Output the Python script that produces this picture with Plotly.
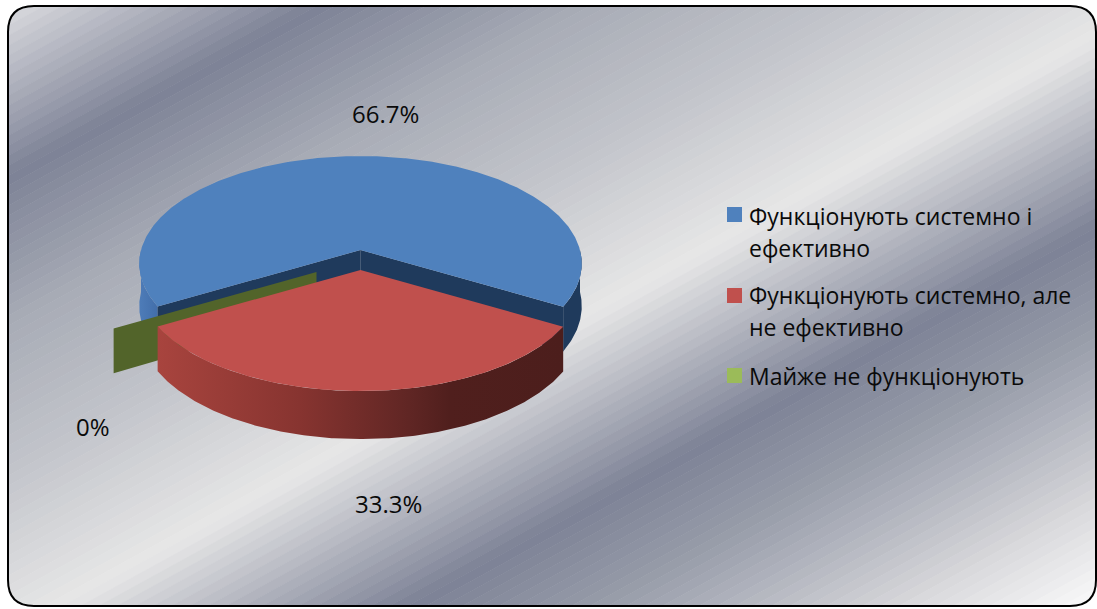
import numpy as np
import plotly.graph_objects as go

# ---- data ----
categories = ["Функціонують системно і ефективно",
              "Функціонують системно, але не ефективно",
              "Майже не функціонують"]
values = [66.7, 33.3, 0]
value_labels = ["66.7%", "33.3%", "0%"]
legend_lines = [["Функціонують системно і", "ефективно"],
                ["Функціонують системно, але", "не ефективно"],
                ["Майже не функціонують"]]
top_colors = ["#4F81BD", "#C0504D", "#9BBB59"]

# ---- 3-D projection of the pie (pixel-valued axes) ----
W, H = 1097, 609
CX, CY = 360.5, 250
RX, RY, P = 219.5, 105.8, 0.126
DEPTH = 42
START = 150
explode = [(0, 0), (0, 20), (-44, 22)]


def project(theta_deg, r=1.0, z=0.0, off=(0, 0)):
    t = np.radians(np.asarray(theta_deg, dtype=float))
    u, v = r * np.cos(t), r * np.sin(t)
    w = 1 - P * v
    return CX + RX * u / w + off[0], CY + (RY * v + z * DEPTH) / w + off[1]


def arc(a0, a1, **kw):
    return project(np.linspace(a0, a1, max(int(abs(a1 - a0) * 2), 2)), **kw)


def poly(xs, ys, **kw):
    return go.Scatter(x=list(xs), y=list(ys), mode="lines", fill="toself",
                      line=dict(width=0), hoverinfo="skip", showlegend=False, **kw)


def hgrad(stops):
    return dict(type="horizontal", colorscale=stops)


spans = [v / sum(values) * 360 for v in values]
a = START
angles = []
for s in spans:
    angles.append((a, a + s))
    a += s
(b0, b1), (r0, r1), (g0, g1) = angles
r0 -= 360
r1 -= 360
fig = go.Figure()


def wall(a0, a1, off=(0, 0)):
    xt, yt = arc(a0, a1, off=off)
    xb, yb = arc(a0, a1, z=1, off=off)
    return np.r_[xt, xb[::-1]], np.r_[yt, yb[::-1]]


def cut(theta, off=(0, 0)):
    p = [project(theta, z=0, off=off), project(theta, z=1, off=off),
         project(theta, r=0, z=1, off=off), project(theta, r=0, z=0, off=off)]
    return [q[0] for q in p], [q[1] for q in p]


# blue: outer visible walls, inner cut faces, top
x, y = wall(b0, 180)
fig.add_trace(poly(x, y, fillgradient=hgrad([[0, "rgb(78,124,184)"], [1, "rgb(66,110,170)"]])))
x, y = wall(360, b1)
fig.add_trace(poly(x, y, fillcolor="rgb(31,58,92)"))
for th in (b0, b1):
    x, y = cut(th)
    fig.add_trace(poly(x, y, fillcolor="rgb(31,58,92)"))
x, y = arc(b0, b1)
xa, ya = project(0, r=0)
fig.add_trace(poly(np.r_[xa, x], np.r_[ya, y], fillcolor=top_colors[0]))

# green: zero-width slice, only its cut face can be seen
x, y = cut(g0, off=explode[2])
fig.add_trace(poly(x, y, fillcolor="rgb(82,100,42)"))

# red: wall then top
x, y = wall(r0, r1, off=explode[1])
fig.add_trace(poly(x, y, fillgradient=hgrad([
    [0, "rgb(168,68,62)"], [0.35, "rgb(135,52,48)"], [0.62, "rgb(96,38,36)"],
    [0.72, "rgb(80,31,29)"], [1, "rgb(76,30,28)"]])))
x, y = arc(r0, r1, off=explode[1])
xa, ya = project(0, r=0, off=explode[1])
fig.add_trace(poly(np.r_[xa, x], np.r_[ya, y], fillcolor=top_colors[1]))

# legend swatches
FONT = "Open Sans"
legend_y = [(216, 248), (295, 327), (376,)]
swatch = dict(x=[734.5] * 3, y=[214.5, 295.5, 375.5])
fig.add_trace(go.Scatter(mode="markers", hoverinfo="skip", showlegend=False,
                         marker=dict(symbol="square", size=15, color=top_colors), **swatch))

ann = []
for lines, ys in zip(legend_lines, legend_y):
    for t, yy in zip(lines, ys):
        ann.append(dict(x=747, y=yy, text=t, xanchor="left", yanchor="middle", showarrow=False,
                        font=dict(family=FONT, size=23, color="#0a0a0a")))
for t, (px, py) in zip(value_labels, [(385, 113), (388, 503), (93, 426)]):
    ann.append(dict(x=px, y=py, text=t, xanchor="center", yanchor="middle", showarrow=False,
                    font=dict(family=FONT, size=24, color="#0a0a0a")))

# ---- background: diagonal stepped gradient ----
stops_c = [0, 180, 330, 480, 640, 830, 930, 1000, 1100, 1212, 1700]
stops_rgb = np.array([[225, 225, 228], [125, 130, 150], [168, 172, 182], [195, 197, 203],
                      [231, 231, 231], [125, 130, 150], [150, 155, 168], [175, 178, 188],
                      [215, 215, 218], [252, 252, 252], [252, 252, 252]], dtype=float)
SL = 0.55
STEP = 10
shapes = []
for c in range(-10, 1240, STEP):
    col = [np.interp(c + STEP / 2, stops_c, stops_rgb[:, i]) for i in range(3)]
    path = (f"M -5 {c + SL * 5} L {W + 5} {c - SL * (W + 5)} "
            f"L {W + 5} {c + STEP + 0.5 - SL * (W + 5)} L -5 {c + STEP + 0.5 + SL * 5} Z")
    shapes.append(dict(type="path", path=path, layer="below", line=dict(width=0),
                       fillcolor=f"rgb({col[0]:.0f},{col[1]:.0f},{col[2]:.0f})"))

# rounded frame: white mask outside, black outline
L, T, R, B, RAD = 8, 6, 1096, 606, 26
frame = (f"M {L + RAD} {T} L {R - RAD} {T} Q {R} {T} {R} {T + RAD} L {R} {B - RAD} Q {R} {B} {R - RAD} {B} "
         f"L {L + RAD} {B} Q {L} {B} {L} {B - RAD} L {L} {T + RAD} Q {L} {T} {L + RAD} {T} Z")
shapes.append(dict(type="path", layer="below", line=dict(width=0), fillcolor="white",
                   path=f"M -5 -5 L {W + 5} -5 L {W + 5} {H + 5} L -5 {H + 5} Z " + frame))
shapes.append(dict(type="path", layer="below", line=dict(width=2, color="black"),
                   fillcolor="rgba(0,0,0,0)", path=frame))

fig.update_layout(
    width=W, height=H, margin=dict(l=0, r=0, t=0, b=0),
    paper_bgcolor="white", plot_bgcolor="rgba(0,0,0,0)", showlegend=False,
    xaxis=dict(range=[0, W], visible=False, fixedrange=True),
    yaxis=dict(range=[H, 0], visible=False, fixedrange=True),
    shapes=shapes, annotations=ann,
)
fig.write_html("out.html", config=dict(displayModeBar=False),
               post_script="document.body.style.margin='0';document.body.style.overflow='hidden';")
